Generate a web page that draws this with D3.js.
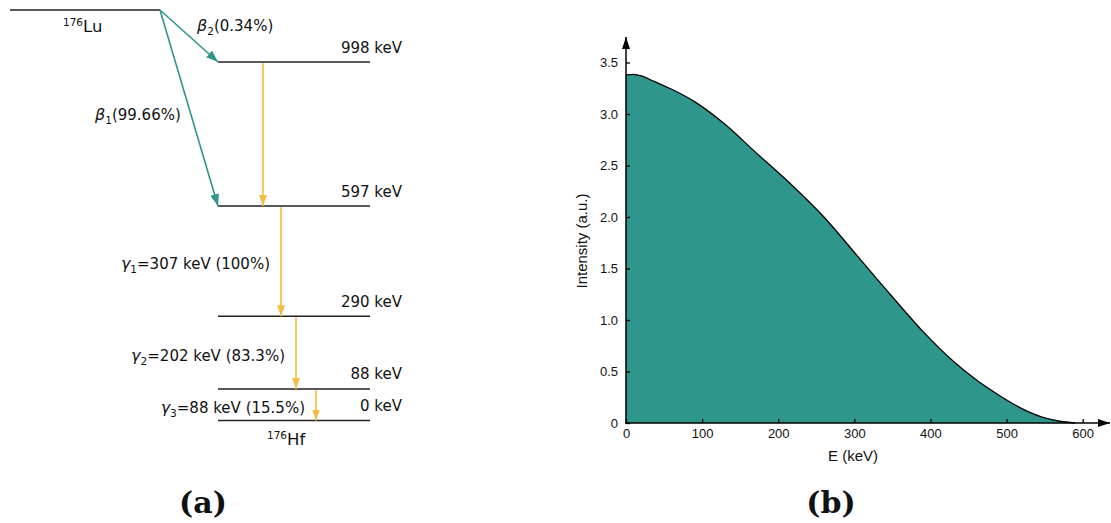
<!DOCTYPE html>
<html><head><meta charset="utf-8">
<script src="https://cdn.jsdelivr.net/npm/d3@7"></script>
<style>body{margin:0;background:#fff}svg{display:block}</style>
</head><body><svg id="c" width="1111" height="523"></svg>
<script>
// ---------- data ----------
const levelEnergies = [998, 597, 290, 88, 0];
const levelLabels = ["998 keV", "597 keV", "290 keV", "88 keV", "0 keV"];
const betaSubs = ["2", "1"];
const betaPcts = ["(0.34%)", "(99.66%)"];
const betaTargets = [998, 597];
const gammaFrom = [998, 597, 290, 88];
const gammaTo = [597, 290, 88, 0];
const gammaSubs = ["", "1", "2", "3"];
const gammaTexts = ["", "=307 keV (100%)", "=202 keV (83.3%)", "=88 keV (15.5%)"];
const parentLabel = ["176", "Lu"];
const daughterLabel = ["176", "Hf"];

const spectrumE = [0, 10, 20, 30, 45, 60, 90, 130, 170, 215, 260, 303, 347, 390, 430, 460, 490, 520, 550, 570, 590];
const spectrumI = [3.38, 3.385, 3.37, 3.34, 3.29, 3.24, 3.12, 2.90, 2.63, 2.33, 2.00, 1.63, 1.25, 0.89, 0.60, 0.42, 0.27, 0.14, 0.05, 0.017, 0];
const xTicks = [0, 100, 200, 300, 400, 500, 600];
const yTicks = [0, 0.5, 1.0, 1.5, 2.0, 2.5, 3.0, 3.5];
const xTitle = "E (keV)";
const yTitle = "Intensity (a.u.)";
const panelLabels = ["(a)", "(b)"];

// ---------- layout / style ----------
const TEAL = "#2f968c", YEL = "#f2bd45", INK = "#222";
const svg = d3.select("#c");
const defs = svg.append("defs");
function marker(id, color, len, wid) {
  defs.append("marker").attr("id", id)
    .attr("markerUnits", "userSpaceOnUse")
    .attr("markerWidth", len).attr("markerHeight", wid)
    .attr("refX", len).attr("refY", wid / 2).attr("orient", "auto")
    .append("path").attr("d", `M0,0L${len},${wid / 2}L0,${wid}Z`).attr("fill", color);
}
marker("mTeal", TEAL, 12, 9);
marker("mYel", YEL, 11, 8);
marker("mBlk", "#000", 12, 8);

// ---------- panel (a): decay scheme ----------
const A = svg.append("g").attr("font-family", "DejaVu Sans, sans-serif").attr("font-size", 15).attr("fill", "#111");
const levelY = d3.scaleLinear().domain([0, 998]).range([420.5, 62]);
const lvlX0 = 218, lvlX1 = 370;
const luX0 = 10, luX1 = 160, luY = 10;
const gammaX = [263, 281, 296, 316];

// parent level
A.append("line").attr("x1", luX0).attr("x2", luX1).attr("y1", luY).attr("y2", luY)
  .attr("stroke", INK).attr("stroke-width", 1.5);
const lu = A.append("text").attr("x", 63).attr("y", 31.5);
lu.append("tspan").attr("font-size", 10.5).attr("dy", -6).text(parentLabel[0]);
lu.append("tspan").attr("font-size", 16.5).attr("dy", 6).text(parentLabel[1]);

// levels
levelEnergies.forEach((e, i) => {
  const y = levelY(e);
  A.append("line").attr("x1", lvlX0).attr("x2", lvlX1).attr("y1", y).attr("y2", y)
    .attr("stroke", INK).attr("stroke-width", 1.5);
  A.append("text").attr("x", 402).attr("y", y - 9.5).attr("text-anchor", "end").text(levelLabels[i]);
});

// daughter label
const hf = A.append("text").attr("x", 267).attr("y", 445);
hf.append("tspan").attr("font-size", 10.5).attr("dy", -6).text(daughterLabel[0]);
hf.append("tspan").attr("font-size", 16.5).attr("dy", 6).text(daughterLabel[1]);

// beta transitions
const betaLabelPos = [[197, 31], [95, 120]];
betaTargets.forEach((e, i) => {
  A.append("line").attr("x1", luX1).attr("y1", luY).attr("x2", lvlX0).attr("y2", levelY(e))
    .attr("stroke", TEAL).attr("stroke-width", 1.6).attr("marker-end", "url(#mTeal)");
  const t = A.append("text").attr("x", betaLabelPos[i][0]).attr("y", betaLabelPos[i][1]);
  t.append("tspan").attr("font-style", "italic").attr("font-size", 16).text("β");
  t.append("tspan").attr("font-size", 10.5).attr("dy", 4).text(betaSubs[i]);
  t.append("tspan").attr("dy", -4).text(betaPcts[i]);
});

// gamma transitions
gammaFrom.forEach((e, i) => {
  const y1 = levelY(e), y2 = levelY(gammaTo[i]);
  A.append("line").attr("x1", gammaX[i]).attr("x2", gammaX[i]).attr("y1", y1 + 1).attr("y2", y2)
    .attr("stroke", YEL).attr("stroke-width", 1.6).attr("marker-end", "url(#mYel)");
  if (gammaTexts[i]) {
    const t = A.append("text").attr("x", gammaX[i] - 11).attr("y", (y1 + y2) / 2 + 8).attr("text-anchor", "end");
    t.append("tspan").attr("font-style", "italic").attr("font-size", 16).text("γ");
    t.append("tspan").attr("font-size", 10.5).attr("dy", 4).text(gammaSubs[i]);
    t.append("tspan").attr("dy", -4).text(gammaTexts[i]);
  }
});

// ---------- panel (b): beta spectrum ----------
const x = d3.scaleLinear().domain([0, 600]).range([626, 1082.7]);
const y = d3.scaleLinear().domain([0, 3.5]).range([423, 62.5]);
const B = svg.append("g").attr("font-family", "Liberation Sans, Arial, sans-serif");
const pts = spectrumE.map((e, i) => [e, spectrumI[i]]);

B.append("path").datum(pts)
  .attr("d", d3.area().x(d => x(d[0])).y0(y(0)).y1(d => y(d[1])).curve(d3.curveMonotoneX))
  .attr("fill", TEAL);
B.append("path").datum(pts)
  .attr("d", d3.line().x(d => x(d[0])).y(d => y(d[1])).curve(d3.curveMonotoneX))
  .attr("fill", "none").attr("stroke", "#000").attr("stroke-width", 1.3);

const yAx = B.append("g").attr("transform", `translate(${x(0)},0)`)
  .call(d3.axisLeft(y).tickValues(yTicks).tickSizeInner(-4).tickSizeOuter(0).tickPadding(8)
    .tickFormat(d => d === 0 ? "0" : d3.format(".1f")(d)));
const xAx = B.append("g").attr("transform", `translate(0,${y(0)})`)
  .call(d3.axisBottom(x).tickValues(xTicks).tickSizeInner(-4).tickSizeOuter(0).tickPadding(6)
    .tickFormat(d3.format("d")));
[yAx, xAx].forEach(g => {
  g.select(".domain").remove();
  g.selectAll(".tick line").attr("stroke", "#000").attr("stroke-width", 1.3);
  g.selectAll(".tick text").attr("font-size", 13).attr("fill", "#111").attr("font-family", "Liberation Sans, Arial, sans-serif");
});
// axis lines with arrows
B.append("line").attr("x1", x(0)).attr("x2", x(0)).attr("y1", y(0) + 0.7).attr("y2", 37)
  .attr("stroke", "#000").attr("stroke-width", 1.5).attr("marker-end", "url(#mBlk)");
B.append("line").attr("x1", x(0) - 0.7).attr("x2", 1110).attr("y1", y(0)).attr("y2", y(0))
  .attr("stroke", "#000").attr("stroke-width", 1.5).attr("marker-end", "url(#mBlk)");

B.append("text").attr("x", 853).attr("y", 461).attr("text-anchor", "middle")
  .attr("font-size", 15).attr("fill", "#111").text(xTitle);
B.append("text").attr("transform", "translate(587,241) rotate(-90)").attr("text-anchor", "middle")
  .attr("font-size", 15).attr("fill", "#111").text(yTitle);

// ---------- panel labels ----------
const panelX = [203, 831];
panelLabels.forEach((s, i) => {
  svg.append("text").attr("x", panelX[i]).attr("y", 513).attr("text-anchor", "middle")
    .attr("font-family", "DejaVu Serif, serif").attr("font-weight", "bold").attr("font-size", 30)
    .attr("fill", "#111").text(s);
});
</script></body></html>
